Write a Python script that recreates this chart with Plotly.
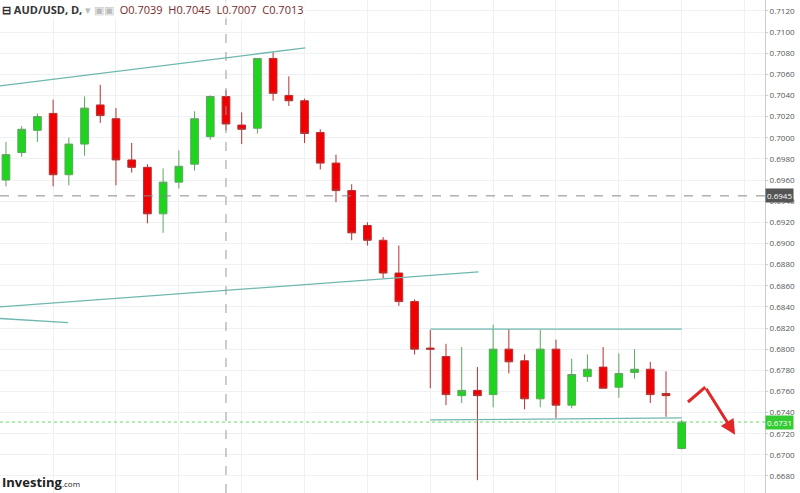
import plotly.graph_objects as go

idx = list(range(44))
opens = [0.6960,0.6986,0.7007,0.7023,0.6965,0.6994,0.7031,0.7018,0.6979,0.6972,0.6928,0.6958,0.6975,0.7001,0.7039,0.7012,0.7009,0.7075,0.7040,0.7035,0.7005,0.6976,0.6950,0.6917,0.6903,0.6872,0.6845,0.6801,0.6793,0.6756,0.6761,0.6757,0.6800,0.6789,0.6753,0.6800,0.6747,0.6774,0.6783,0.6764,0.6778,0.6781,0.6758,0.6706]
highs = [0.6996,0.7011,0.7023,0.7036,0.7000,0.7039,0.7050,0.7028,0.6995,0.6975,0.6971,0.6988,0.7025,0.7040,0.7045,0.7024,0.7075,0.7081,0.7058,0.7037,0.7008,0.6984,0.6956,0.6920,0.6906,0.6898,0.6847,0.6818,0.6805,0.6802,0.6783,0.6823,0.6819,0.6795,0.6818,0.6809,0.6791,0.6795,0.6802,0.6796,0.6800,0.6788,0.6779,0.6733]
lows = [0.6954,0.6982,0.6996,0.6954,0.6955,0.6983,0.7014,0.6955,0.6967,0.6919,0.6910,0.6952,0.6969,0.6998,0.7007,0.6994,0.7004,0.7035,0.7030,0.6995,0.6970,0.6939,0.6903,0.6898,0.6867,0.6841,0.6795,0.6763,0.6747,0.6749,0.6676,0.6745,0.6777,0.6743,0.6745,0.6735,0.6744,0.6769,0.6763,0.6754,0.6772,0.6749,0.6736,0.6705]
closes = [0.6984,0.7008,0.7020,0.6965,0.6994,0.7028,0.7021,0.6979,0.6972,0.6928,0.6958,0.6973,0.7018,0.7039,0.7013,0.7008,0.7075,0.7042,0.7035,0.7004,0.6976,0.6950,0.6910,0.6903,0.6872,0.6845,0.6800,0.6800,0.6757,0.6761,0.6756,0.6800,0.6788,0.6753,0.6800,0.6747,0.6776,0.6781,0.6763,0.6777,0.6781,0.6757,0.6756,0.6731]
ytick_vals = [round(0.6680 + 0.002*i, 4) for i in range(23)]
ytick_text = [f"{v:.4f}" for v in ytick_vals]
current_price = 0.6731
cross_price = 0.6945
cross_idx = 14

fig = go.Figure()
fig.add_trace(go.Candlestick(
    x=idx, open=opens, high=highs, low=lows, close=closes,
    increasing=dict(fillcolor="#1ed41e", line=dict(color="#5aa85a", width=1)),
    decreasing=dict(fillcolor="#f00000", line=dict(color="#b83030", width=1)),
    whiskerwidth=0, showlegend=False, hoverinfo="skip"))

teal = "#6fb8b0"
lines = [((-0.38, 0.7049), (19.05, 0.7085)),
         ((-0.38, 0.6840), (30.07, 0.6873)),
         ((-0.38, 0.6829), (3.95, 0.6825)),
         ((27, 0.6819), (43, 0.6819)),
         ((27, 0.6733), (43, 0.6735))]
for (x0, y0), (x1, y1) in lines:
    fig.add_shape(type="line", x0=x0, y0=y0, x1=x1, y1=y1, line=dict(color=teal, width=1.3))

fig.add_shape(type="line", xref="paper", x0=0, x1=1, y0=cross_price, y1=cross_price,
              line=dict(color="#888", width=1, dash="dash"))
fig.add_shape(type="line", yref="paper", y0=0, y1=1, x0=cross_idx, x1=cross_idx,
              line=dict(color="#999", width=1, dash="dash"))
fig.add_shape(type="line", xref="paper", x0=0, x1=1, y0=current_price, y1=current_price,
              line=dict(color="#66dd66", width=1, dash="dot"))

fig.add_shape(type="line", x0=43.4, y0=0.6750, x1=44.5, y1=0.6764, line=dict(color="#e02828", width=3))
fig.add_annotation(x=46.4, y=0.6719, ax=44.5, ay=0.6764, xref="x", yref="y", axref="x", ayref="y",
                   showarrow=True, arrowhead=2, arrowsize=1, arrowwidth=3, arrowcolor="#e02828", text="")

fig.add_annotation(xref="paper", yref="y", x=1.0, y=cross_price, xanchor="left", text=f"{cross_price:.4f}",
                   showarrow=False, bgcolor="#555", font=dict(color="white", size=8, family="Open Sans"), borderpad=1)
fig.add_annotation(xref="paper", yref="y", x=1.0, y=current_price, xanchor="left", text=f"{current_price:.4f}",
                   showarrow=False, bgcolor="#33cc33", font=dict(color="white", size=8, family="Open Sans"), borderpad=1)

fig.add_annotation(xref="paper", yref="paper", x=0.0, y=1.0, xanchor="left", yanchor="top", showarrow=False,
                   text="<b>⊟ AUD/USD, D,</b> <span style='color:#bbb'>▾ ▣▣</span>  <span style='color:#7a2a2a'>O0.7039  H0.7045  L0.7007  C0.7013</span>",
                   font=dict(size=11, color="#333", family="Open Sans"), bgcolor="rgba(255,255,255,0.8)")
fig.add_annotation(xref="paper", yref="paper", x=0.0, y=0.0, xanchor="left", yanchor="bottom", showarrow=False,
                   text="<b>Investing</b><span style='font-size:8px'>.com</span>", font=dict(size=13, color="#222", family="Open Sans"))

fig.update_layout(
    width=800, height=493, margin=dict(l=0, r=35, t=0, b=0),
    paper_bgcolor="white", plot_bgcolor="white",
    xaxis=dict(range=[-0.38, 48.3], rangeslider=dict(visible=False), showticklabels=False,
               tickvals=[3, 7, 11, 15, 19, 23, 27, 31, 35, 39, 43, 47], showgrid=True,
               gridcolor="#eef0f3", zeroline=False, showline=False),
    yaxis=dict(side="right", range=[0.66639, 0.71303], tickvals=ytick_vals, ticktext=ytick_text,
               gridcolor="#eef0f3", tickfont=dict(size=8, color="#555", family="Open Sans"),
               showline=True, linecolor="#ccc", ticks="outside", ticklen=2, tickcolor="#ccc", zeroline=False),
)
fig.write_html("out.html", config={"displayModeBar": False})
with open("out.html", encoding="utf-8") as f:
    html = f.read()
html = html.replace("<body>", "<body style=\"margin:0;overflow:hidden\">", 1)
with open("out.html", "w", encoding="utf-8") as f:
    f.write(html)
